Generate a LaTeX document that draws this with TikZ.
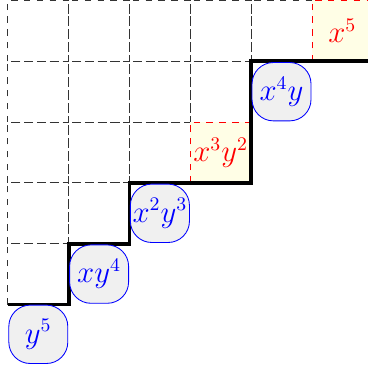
\documentclass[tikz,border=0pt]{standalone}
\begin{document}
\begin{tikzpicture}[x=1cm,y=1cm,
  cellbox/.style={draw=black!80,dashed},
  hicell/.style={draw=red,dashed,fill=yellow!10},
  hilabel/.style={text=red,font=\fontsize{13.3}{16}\selectfont},
  genbox/.style={draw=blue,fill=gray!12,text=blue,rounded corners=10pt,minimum width=0.97cm,minimum height=0.96cm,inner sep=1pt,font=\fontsize{13.3}{16}\selectfont},
  stair/.style={line width=1.8pt,line join=miter}]
\useasboundingbox (-0.13,-1.077) rectangle (5.906,5.008);
% dashed grid cells above the staircase
\foreach \c/\r in {0/0, 0/1,1/1, 0/2,1/2,2/2, 0/3,1/3,2/3,3/3, 0/4,1/4,2/4,3/4,4/4}
  \draw[cellbox] (\c,\r) rectangle ++(1,1);
% highlighted cells
\draw[hicell] (3,2) rectangle (4,3);
\draw[hicell] (5,4) rectangle (6,5);
\node[hilabel] (m32) at (3.5,2.5) {$x^3y^2$};
\node[hilabel] (m50) at (5.5,4.5) {$x^5$};
% staircase
\coordinate (s0) at (0,0);
\coordinate (s1) at (1,0);
\coordinate (s2) at (1,1);
\coordinate (s3) at (2,1);
\coordinate (s4) at (2,2);
\coordinate (s5) at (4,2);
\coordinate (s6) at (4,4);
\coordinate (s7) at (6,4);
\draw[stair] (s0) -- (s1) -- (s2) -- (s3) -- (s4) -- (s5) -- (s6) -- (s7);
% generators
\node[genbox] (g05) at (0.5,-0.49) {$y^5$};
\node[genbox] (g14) at (1.5,0.5) {$xy^4$};
\node[genbox] (g23) at (2.5,1.5) {$x^2y^3$};
\node[genbox] (g41) at (4.5,3.5) {$x^4y$};
\end{tikzpicture}
\end{document}
